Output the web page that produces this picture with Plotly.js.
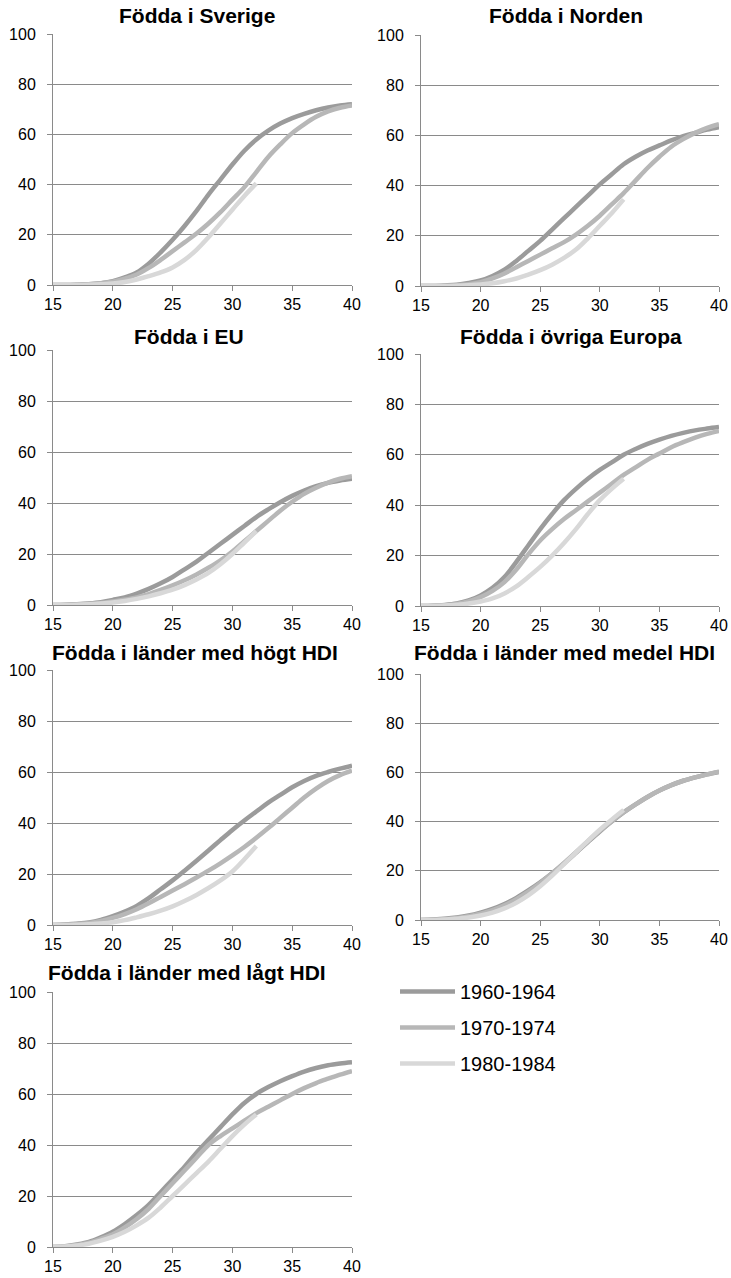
<!DOCTYPE html>
<html>
<head>
<meta charset="utf-8">
<script src="https://cdn.plot.ly/plotly-3.0.1.min.js"></script>
<style>html,body{margin:0;padding:0;background:#fff}#chart{width:731px;height:1278px}</style>
</head>
<body>
<div id="chart"></div>
<script>
// Ages (x values)
const ages = [15,16,17,18,19,20,21,22,23,24,25,26,27,28,29,30,31,32,33,34,35,36,37,38,39,40];
const ages80 = [15,16,17,18,19,20,21,22,23,24,25,26,27,28,29,30,31,32];

const seriesNames = ["1960-1964", "1970-1974", "1980-1984"];
const panelTitles = ["Födda i Sverige", "Födda i Norden", "Födda i EU", "Födda i övriga Europa",
  "Födda i länder med högt HDI", "Födda i länder med medel HDI", "Födda i länder med lågt HDI"];

// Födda i Sverige
const sverige60 = [0,0,0.1,0.3,0.7,1.5,3,5,8.5,13,18,23.5,29.5,36,42,48,53.5,58,61.5,64.3,66.5,68.2,69.6,70.7,71.5,72];
const sverige70 = [0,0,0.1,0.3,0.7,1.3,2.5,4.2,6.8,10,13.5,17,20.5,24.5,29,34,39,45,51,56,60.5,64,67,69.2,70.6,71.5];
const sverige80 = [0,0,0,0.1,0.3,0.6,1.2,2.2,3.5,5,7,10,14,19,24.5,30,35.5,40.5];
// Födda i Norden
const norden60 = [0,0,0.2,0.5,1.2,2.2,4,6.5,10,14,18,22.5,27,31.5,36,40.5,44.5,48.5,51.5,54,56,58,59.7,61,62.3,63.3];
const norden70 = [0,0,0.1,0.3,0.7,1.5,3,5,7.5,10,12.5,15,17.5,20.5,24,28,32.5,37,42,47,51.5,55.5,58.5,61,63,64.5];
const norden80 = [0,0,0,0.1,0.3,0.6,1.1,1.9,3,4.5,6.3,8.5,11.2,14.5,19,24,29,34.5];
// Födda i EU
const eu60 = [0,0.1,0.3,0.6,1.1,2,3,4.5,6.3,8.5,11,14,17,20.5,24,27.5,31,34.5,37.5,40.3,42.8,44.9,46.6,47.9,48.8,49.5];
const eu70 = [0,0,0.2,0.4,0.8,1.4,2.1,3,4.3,5.9,7.7,9.7,12,14.6,17.5,21,25,29,33,37,40.5,43.6,46,48,49.5,50.5];
const eu80 = [0,0,0.1,0.3,0.6,1,1.6,2.4,3.4,4.6,6,7.8,10,12.6,16,20,24.5,29];
// Födda i övriga Europa
const ovriga60 = [0,0.1,0.4,1,2.2,4.2,7.2,11.5,17.5,24,30.5,36.5,42,46.5,50.5,54,57,60,62.3,64.3,66,67.5,68.7,69.7,70.4,71];
const ovriga70 = [0,0.1,0.3,0.8,1.8,3.5,6,9.5,14.5,20.5,26,30.5,34.5,38,41.5,45,48.5,52,55,58,60.5,63,65,66.8,68.3,69.5];
const ovriga80 = [0,0,0.2,0.5,1,1.8,3,5,7.8,11.5,15.5,20,25,30.5,36.5,42,46.5,50.5];
// Födda i länder med högt HDI
const hogt60 = [0,0.2,0.5,1,2,3.5,5.3,7.5,10.5,14,17.5,21.3,25.2,29.2,33.3,37.3,41,44.5,48,51,54,56.5,58.5,60,61.3,62.5];
const hogt70 = [0,0.1,0.4,0.8,1.6,2.8,4.3,6.2,8.5,11,13.5,16,18.6,21.3,24.2,27.3,30.6,34.2,38,42,46,50,53.5,56.5,58.8,60.5];
const hogt80 = [0,0,0.1,0.3,0.6,1.1,1.9,3,4.2,5.6,7.3,9.4,11.8,14.5,17.5,21,25.8,31];
// Födda i länder med medel HDI
const medel60 = [0,0.2,0.5,1,1.8,3,4.5,6.5,9,12,15.3,19,23,27.3,31.7,36,40,43.7,47,50,52.6,54.8,56.6,58,59.2,60.2];
const medel70 = [0,0.1,0.4,0.8,1.5,2.6,4,6,8.5,11.5,15,19,23.2,27.6,32,36.3,40.2,43.8,47,50,52.6,54.8,56.6,58,59.2,60.3];
const medel80 = [0,0,0.2,0.5,1,1.8,3,4.7,7,10,13.7,18,22.7,27.5,32.2,36.7,40.8,44.7];
// Födda i länder med lågt HDI
const lagt60 = [0,0.3,1,2,3.8,6,9,12.5,16.5,21.5,26.5,31.5,37,42,47,52,56.5,60,62.7,65,67,68.8,70.2,71.3,72,72.5];
const lagt70 = [0,0.2,0.8,1.7,3.2,5,7.7,11,15,20,25,30,35,40,43.5,46.5,49.5,52.5,55,57.5,60,62.3,64.3,66,67.6,69];
const lagt80 = [0,0.2,0.6,1.3,2.5,4,6,8.5,11.5,15.5,20,24.5,29,33.5,38.5,43.5,48,52];

const xTicks = [15,20,25,30,35,40];
const yTicks = [0,20,40,60,80,100];

const panels = [
  [sverige60, sverige70, sverige80],
  [norden60, norden70, norden80],
  [eu60, eu70, eu80],
  [ovriga60, ovriga70, ovriga80],
  [hogt60, hogt70, hogt80],
  [medel60, medel70, medel80],
  [lagt60, lagt70, lagt80]
];

const colors = ["#9b9b9b", "#b7b7b7", "#d8d8d8"];
const W = 731, H = 1278;
// pixel boxes [left, right, top, bottom]
const boxes = [
  [53,352,34,285],[421,719,35,286],
  [53,352,350,605],[421,719,354,606],
  [53,352,670,925],[421,719,674,920],
  [53,352,992,1247]
];
const titlePos = [[197,16],[566,16],[189,336],[571,336],[195,652],[564,652],[187,972]];

const FONT = "Liberation Sans, Arial, sans-serif";
const traces = [];
const layout = {
  width: W, height: H,
  margin: {l:0, r:0, t:0, b:0},
  paper_bgcolor: "#ffffff", plot_bgcolor: "#ffffff",
  font: {family: FONT, color: "#000000", size: 16},
  showlegend: true,
  legend: {
    x: 395/W, y: 1 - 972/H, xanchor: "left", yanchor: "top",
    font: {family: FONT, size: 20, color: "#000"},
    itemwidth: 55, tracegroupgap: 7, bgcolor: "rgba(0,0,0,0)"
  },
  annotations: []
};

panels.forEach((p, i) => {
  const k = i + 1;
  const xa = "x" + (k === 1 ? "" : k), ya = "y" + (k === 1 ? "" : k);
  const [l, r, t, b] = boxes[i];
  p.forEach((vals, s) => {
    traces.push({
      type: "scatter", mode: "lines",
      x: s === 2 ? ages80 : ages, y: vals,
      xaxis: xa, yaxis: ya,
      name: seriesNames[s], legendgroup: seriesNames[s],
      showlegend: i === 0,
      line: {color: colors[s], width: 4.5, shape: "spline", smoothing: 1},
      cliponaxis: false, hoverinfo: "skip"
    });
  });
  layout["xaxis" + (k === 1 ? "" : k)] = {
    domain: [l / W, r / W], anchor: ya, range: [15, 40],
    tickvals: xTicks, ticks: "outside", ticklen: 5, tickwidth: 1, tickcolor: "#8a8a8a",
    showline: true, linecolor: "#8a8a8a", linewidth: 1, showgrid: false, zeroline: false,
    tickfont: {family: FONT, size: 16, color: "#000"}, fixedrange: true
  };
  layout["yaxis" + (k === 1 ? "" : k)] = {
    domain: [1 - b / H, 1 - t / H], anchor: xa, range: [0, 100],
    tickvals: yTicks, ticks: "outside", ticklen: 5, tickwidth: 1, tickcolor: "#8a8a8a",
    showline: true, linecolor: "#8a8a8a", linewidth: 1, showgrid: true, gridcolor: "#8a8a8a", gridwidth: 1,
    zeroline: false, tickfont: {family: FONT, size: 16, color: "#000"}, fixedrange: true,
    ticklabelstandoff: 8
  };
  layout.annotations.push({
    text: "<b>" + panelTitles[i] + "</b>", xref: "paper", yref: "paper",
    x: titlePos[i][0] / W, y: 1 - titlePos[i][1] / H, xanchor: "center", yanchor: "middle",
    showarrow: false, font: {family: FONT, size: 21, color: "#000"}
  });
});

Plotly.newPlot("chart", traces, layout, {staticPlot: true});
</script>
</body>
</html>
